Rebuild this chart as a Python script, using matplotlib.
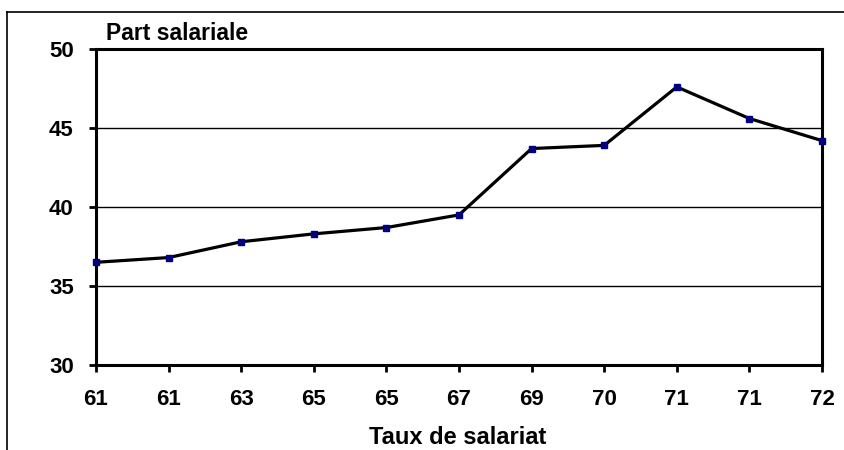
import matplotlib
matplotlib.use("Agg")
import matplotlib.pyplot as plt
from matplotlib.lines import Line2D

labels = ["61", "61", "63", "65", "65", "67", "69", "70", "71", "71", "72"]
part_salariale = [36.5, 36.8, 37.8, 38.3, 38.7, 39.5, 43.7, 43.9, 47.6, 45.6, 44.2]
y_ticks = [30, 35, 40, 45, 50]

plt.rcParams['font.family'] = ['Liberation Sans', 'DejaVu Sans']

fig = plt.figure(figsize=(8.44, 4.5), dpi=100)
ax = fig.add_axes([96/844, 1 - 365/450, (822 - 96)/844, (365 - 49)/450])

x = list(range(len(labels)))
ax.plot(x, part_salariale, color='black', linewidth=2.3, zorder=3, clip_on=False)
ax.plot(x, part_salariale, linestyle='none', marker='s', markersize=4.5,
        color='#000080', zorder=4, clip_on=False)

ax.set_xlim(0, len(labels) - 1)
ax.set_ylim(30, 50)
ax.set_xticks(x)
ax.set_xticklabels(labels)
ax.set_yticks(y_ticks)
ax.set_yticklabels([str(v) for v in y_ticks])
for v in y_ticks[1:-1]:
    ax.axhline(v, color='black', linewidth=1.0, zorder=1)

for s in ax.spines.values():
    s.set_linewidth(2.2)
    s.set_color('black')

ax.tick_params(axis='both', direction='out', length=5, width=2, colors='black',
               labelsize=16)
ax.tick_params(axis='x', pad=12)
ax.tick_params(axis='y', pad=11)
for lab in ax.get_xticklabels() + ax.get_yticklabels():
    lab.set_fontweight('bold')

fig.text(106/844, 1 - 33/450, "Part salariale", fontsize=16.5, fontweight='bold',
         ha='left', va='center')
fig.text(458/844, 1 - 437/450, "Taux de salariat", fontsize=17, fontweight='bold',
         ha='center', va='center')

# outer chart frame (top and left edges visible)
fig.add_artist(Line2D([7/844, 1], [1 - 12/450, 1 - 12/450], transform=fig.transFigure,
                      color='black', linewidth=1.2))
fig.add_artist(Line2D([7/844, 7/844], [0, 1 - 12/450], transform=fig.transFigure,
                      color='black', linewidth=1.2))

fig.savefig("out.png", dpi=100)
